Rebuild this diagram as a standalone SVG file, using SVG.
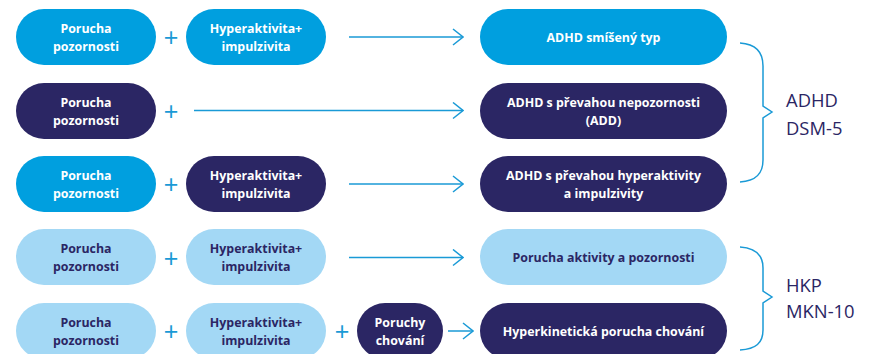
<svg xmlns="http://www.w3.org/2000/svg" width="872" height="354" viewBox="0 0 872 354">
<style>
.b{fill:#009fdf}.n{fill:#2b2664}.l{fill:#a3d8f5}
text{font-family:"Open Sans","Liberation Sans",sans-serif;font-size:12.4px;font-weight:bold;text-anchor:middle}
.w{fill:#ffffff}.d{fill:#2b2664}
.plus{font-family:"Liberation Sans",sans-serif;font-weight:normal;font-size:25px;fill:#1a9ad6}
.ln{stroke:#1a9ad6;stroke-width:1.5;fill:none}
.lab{font-family:"Open Sans","Liberation Sans",sans-serif;font-weight:normal;font-size:18.4px;fill:#2b2664;text-anchor:start}
</style>
<defs>
<marker id="ah" viewBox="0 0 12 18" refX="11" refY="9" markerWidth="12" markerHeight="18" markerUnits="userSpaceOnUse" orient="auto">
<path d="M1,1 L11,9 L1,17" fill="none" stroke="#1a9ad6" stroke-width="1.5"/>
</marker>
</defs>
<g id="row1">
<g id="n1a"><rect class="b" x="16" y="9" width="140" height="56" rx="28"/><text class="w" x="86" y="32.5">Porucha</text><text class="w" x="86" y="50.5">pozornosti</text></g>
<g id="n1b"><rect class="b" x="186" y="9" width="140" height="56" rx="28"/><text class="w" x="256" y="32.5">Hyperaktivita+</text><text class="w" x="256" y="50.5">impulzivita</text></g>
<g id="n1c"><rect class="b" x="480" y="9" width="247" height="56" rx="28"/><text class="w" x="603.5" y="41.5">ADHD smíšený typ</text></g>
</g>
<g id="row2">
<g id="n2a"><rect class="n" x="16" y="83" width="140" height="56" rx="28"/><text class="w" x="86" y="106.5">Porucha</text><text class="w" x="86" y="124.5">pozornosti</text></g>
<g id="n2c"><rect class="n" x="480" y="83" width="247" height="56" rx="28"/><text class="w" x="603.5" y="106.5">ADHD s převahou nepozornosti</text><text class="w" x="603.5" y="124.5">(ADD)</text></g>
</g>
<g id="row3">
<g id="n3a"><rect class="b" x="16" y="156" width="140" height="56" rx="28"/><text class="w" x="86" y="179.5">Porucha</text><text class="w" x="86" y="197.5">pozornosti</text></g>
<g id="n3b"><rect class="n" x="186" y="156" width="140" height="56" rx="28"/><text class="w" x="256" y="179.5">Hyperaktivita+</text><text class="w" x="256" y="197.5">impulzivita</text></g>
<g id="n3c"><rect class="n" x="480" y="156" width="247" height="56" rx="28"/><text class="w" x="603.5" y="179.5">ADHD s převahou hyperaktivity</text><text class="w" x="603.5" y="197.5">a impulzivity</text></g>
</g>
<g id="row4">
<g id="n4a"><rect class="l" x="16" y="229" width="140" height="56" rx="28"/><text class="d" x="86" y="252.5">Porucha</text><text class="d" x="86" y="270.5">pozornosti</text></g>
<g id="n4b"><rect class="l" x="186" y="229" width="140" height="56" rx="28"/><text class="d" x="256" y="252.5">Hyperaktivita+</text><text class="d" x="256" y="270.5">impulzivita</text></g>
<g id="n4c"><rect class="l" x="480" y="229" width="247" height="56" rx="28"/><text class="d" x="603.5" y="261.5">Porucha aktivity a pozornosti</text></g>
</g>
<g id="row5">
<g id="n5a"><rect class="l" x="16" y="303" width="140" height="56" rx="28"/><text class="d" x="86" y="326.5">Porucha</text><text class="d" x="86" y="344.5">pozornosti</text></g>
<g id="n5b"><rect class="l" x="186" y="303" width="140" height="56" rx="28"/><text class="d" x="256" y="326.5">Hyperaktivita+</text><text class="d" x="256" y="344.5">impulzivita</text></g>
<g id="n5d"><rect class="n" x="357" y="303" width="86" height="56" rx="28"/><text class="w" x="400" y="326.5">Poruchy</text><text class="w" x="400" y="344.5">chování</text></g>
<g id="n5c"><rect class="n" x="480" y="303" width="247" height="56" rx="28"/><text class="w" x="603.5" y="335.5">Hyperkinetická porucha chování</text></g>
</g>
<g id="connectors">
<text class="plus" x="171" y="46">+</text>
<text class="plus" x="171" y="119.5">+</text>
<text class="plus" x="171" y="193">+</text>
<text class="plus" x="171" y="266.5">+</text>
<text class="plus" x="171" y="340">+</text>
<text class="plus" x="342" y="340">+</text>
<line class="ln" x1="349" y1="37" x2="463" y2="37" marker-end="url(#ah)"/>
<line class="ln" x1="194" y1="110.5" x2="463" y2="110.5" marker-end="url(#ah)"/>
<line class="ln" x1="349" y1="184" x2="463" y2="184" marker-end="url(#ah)"/>
<line class="ln" x1="349" y1="257.5" x2="463" y2="257.5" marker-end="url(#ah)"/>
<line class="ln" x1="448" y1="331" x2="473" y2="331" marker-end="url(#ah)"/>
<path class="ln" d="M740,43 C756,44 763,52 763,66 L763,106 L772,112 L763,118 L763,160 C763,174 756,181 740,182"/>
<path class="ln" d="M740,247 C756,248 763,255 763,268 L763,291 L772,297 L763,303 L763,330 C763,343 756,349 740,350"/>
</g>
<g id="labels">
<text class="lab" x="786" y="107">ADHD</text>
<text class="lab" x="786" y="135">DSM-5</text>
<text class="lab" x="786" y="292">HKP</text>
<text class="lab" x="786" y="318">MKN-10</text>
</g>
</svg>
